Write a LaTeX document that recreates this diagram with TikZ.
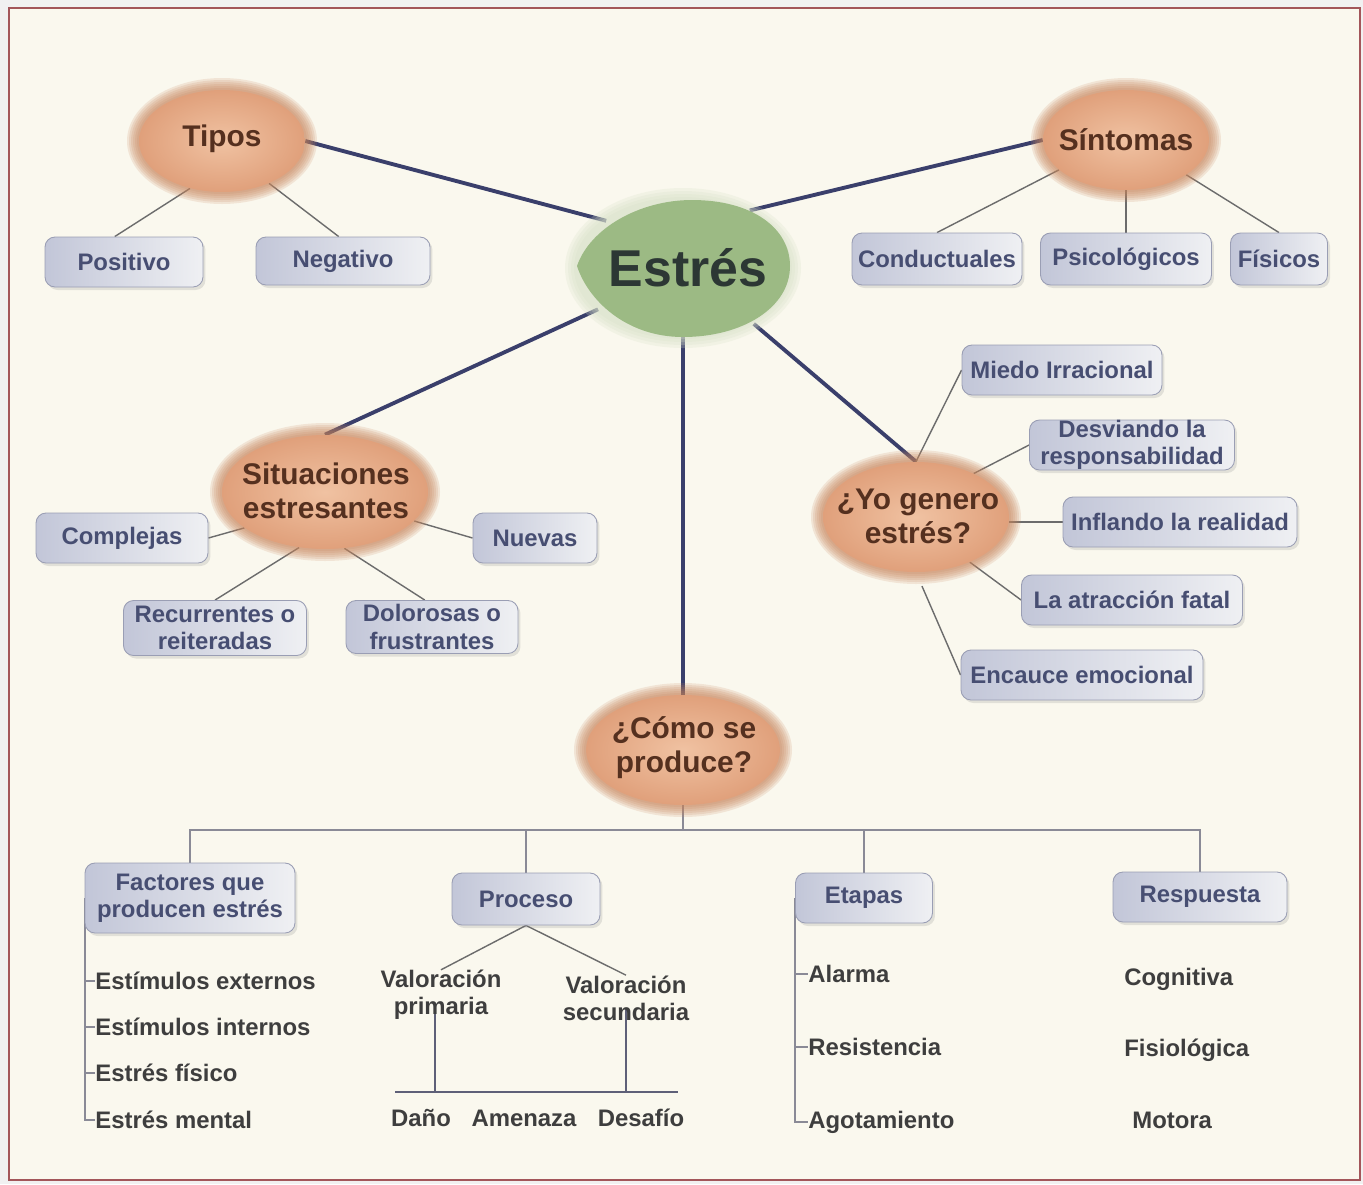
\documentclass[tikz,border=0pt]{standalone}
\usepackage{fontspec}
\setmainfont{Liberation Sans}
\usetikzlibrary{shapes.geometric,shadows,backgrounds}
\definecolor{bgc}{HTML}{FAF8EE}
\definecolor{outc}{HTML}{F1F1F1}
\definecolor{framec}{HTML}{A3565A}
\definecolor{navyc}{HTML}{3A3F6B}
\definecolor{thinc}{HTML}{6C6C6C}
\definecolor{busc}{HTML}{8A8A96}
\definecolor{procc}{HTML}{5E6078}
\definecolor{boxL}{HTML}{C2C6D8}
\definecolor{boxR}{HTML}{EFF0F3}
\definecolor{boxB}{HTML}{9A9EB4}
\definecolor{boxT}{HTML}{474E72}
\definecolor{bubIn}{HTML}{F0C2A2}
\definecolor{bubOut}{HTML}{E0A07B}
\definecolor{haloc}{HTML}{C7845B}
\definecolor{bubT}{HTML}{55301F}
\definecolor{estG}{HTML}{9CBA84}
\definecolor{estT}{HTML}{2C3734}
\definecolor{itemT}{HTML}{3E3E3E}
\newcommand\boxfont{\fontsize{13.6}{15.5}\selectfont\bfseries}
\newcommand\bubfont{\fontsize{17}{19.5}\selectfont\bfseries}
\newcommand\estfont{\fontsize{29.5}{32}\selectfont\bfseries}
\newcommand\halo[4]{\foreach \k in {1,...,6}{\fill[haloc,opacity=0.17] (#1,#2) ellipse [x radius={(#3+2*\k)*0.02cm}, y radius={(#4+2*\k)*0.02cm}];}}
\tikzset{
  nbox/.style={rectangle, rounded corners=0.2cm, left color=boxL, right color=boxR, draw=boxB, line width=0.5pt, text=boxT, font=\boxfont, align=center, inner sep=0pt, minimum height=1cm, drop shadow={opacity=0.2, shadow xshift=0.05cm, shadow yshift=-0.06cm}},
  bubble/.style={ellipse, inner sep=0pt, inner color=bubIn, outer color=bubOut},
  btxt/.style={text=bubT, font=\bubfont, align=center, inner sep=0pt},
  itm/.style={text=itemT, font=\boxfont, inner sep=0pt, anchor=west},
  citm/.style={text=itemT, font=\boxfont, inner sep=0pt, align=center},
  mainln/.style={navyc, line width=2.2pt},
  subln/.style={thinc, line width=0.8pt},
  busln/.style={busc, line width=1.2pt},
  procln/.style={procc, line width=0.9pt},
}
\begin{document}
\begin{tikzpicture}[x=0.02cm, y=-0.02cm]
\useasboundingbox (0,0) rectangle (1363,1184);
\begin{scope}[on background layer]
  \fill[outc] (0,0) rectangle (1363,1184);
  \filldraw[fill=bgc, draw=framec, line width=1.1pt] (9,8) rectangle (1360,1180);
\end{scope}

% central node
\foreach \k in {1,...,4}{\fill[estG!35!bgc, opacity=0.25] (683,268) ellipse [x radius={(106+3*\k)*0.02cm}, y radius={(68+3*\k)*0.02cm}];}
\fill[estG] (577,266) .. controls (590,228) and (640,200) .. (692,200)
  .. controls (752,200) and (790,228) .. (790,266)
  .. controls (790,308) and (742,337) .. (683,337)
  .. controls (626,337) and (588,300) .. (577,266) -- cycle;
\node[ellipse, minimum width=4.24cm, minimum height=2.74cm, inner sep=0pt, text=estT, font=\estfont] (estres) at (688,268) {Estrés};

% bubbles
\halo{222}{141}{83}{51}
\node[bubble, minimum width=3.32cm, minimum height=2.04cm] (tipos) at (222,141) {};
\node[btxt] (tipos-t) at (222,139) {Tipos};

\halo{1126}{140}{83}{50}
\node[bubble, minimum width=3.32cm, minimum height=2.0cm] (sint) at (1126,140) {};
\node[btxt] (sint-t) at (1126,140) {Síntomas};

\halo{325}{492}{103}{57}
\node[bubble, minimum width=4.12cm, minimum height=2.28cm] (situ) at (325,492) {};
\node[btxt] (situ-t) at (326,491) {Situaciones\\estresantes};

\halo{916}{517}{93}{55}
\node[bubble, minimum width=3.72cm, minimum height=2.2cm] (yo) at (916,517) {};
\node[btxt] (yo-t) at (918,516) {¿Yo genero\\estrés?};

\halo{683}{750}{97}{55}
\node[bubble, minimum width=3.88cm, minimum height=2.2cm] (como) at (683,750) {};
\node[btxt] (como-t) at (684,748) {¿Cómo se\\produce?};

% boxes
\node[nbox, minimum width=3.16cm] (pos) at (124,262) {Positivo};
\node[nbox, minimum width=3.48cm, minimum height=0.96cm] (neg) at (343,261) {Negativo};
\node[nbox, minimum width=3.40cm, minimum height=1.04cm] (cond) at (937,259) {Conductuales};
\node[nbox, minimum width=3.42cm, minimum height=1.04cm] (psic) at (1126,259) {Psicológicos};
\node[nbox, minimum width=1.94cm, minimum height=1.04cm] (fis) at (1279,259) {Físicos};
\node[nbox, minimum width=4.0cm] (miedo) at (1062,370) {Miedo Irracional};
\node[nbox, minimum width=4.1cm] (desv) at (1132,445) {Desviando la\\responsabilidad};
\node[nbox, minimum width=4.68cm] (infl) at (1180,522) {Inflando la realidad};
\node[nbox, minimum width=4.42cm] (atr) at (1132,600) {La atracción fatal};
\node[nbox, minimum width=4.84cm] (enc) at (1082,675) {Encauce emocional};
\node[nbox, minimum width=3.44cm] (comp) at (122,538) {Complejas};
\node[nbox, minimum width=2.48cm] (nue) at (535,538) {Nuevas};
\node[nbox, minimum width=3.66cm, minimum height=1.1cm] (rec) at (215,628) {Recurrentes o\\reiteradas};
\node[nbox, minimum width=3.44cm, minimum height=1.06cm] (dol) at (432,627) {Dolorosas o\\frustrantes};
\node[nbox, minimum width=4.2cm, minimum height=1.4cm] (fac) at (190,898) {Factores que\\producen estrés};
\node[nbox, minimum width=2.96cm, minimum height=1.04cm] (proc) at (526,899) {Proceso};
\node[nbox, minimum width=2.74cm] (etap) at (864,898) {Etapas};
\node[nbox, minimum width=3.48cm] (resp) at (1200,897) {Respuesta};

% lists
\node[itm] (f1) at (95,981) {Estímulos externos};
\node[itm] (f2) at (95,1027) {Estímulos internos};
\node[itm] (f3) at (95,1073) {Estrés físico};
\node[itm] (f4) at (95,1120) {Estrés mental};
\node[itm] (e1) at (808,974) {Alarma};
\node[itm] (e2) at (808,1047) {Resistencia};
\node[itm] (e3) at (808,1122) {Agotamiento};
\node[itm] (r1) at (1124,979) {Cognitiva};
\node[itm] (r2) at (1124,1050) {Fisiológica};
\node[itm] (r3) at (1132,1120) {Motora};
\node[citm] (vp) at (441,995) {Valoración\\primaria};
\node[citm] (vs) at (626,998) {Valoración\\secundaria};
\node[citm] (dano) at (421,1118) {Daño};
\node[citm] (amen) at (524,1118) {Amenaza};
\node[citm] (desa) at (641,1118) {Desafío};

\coordinate (bus) at (683,830);
\coordinate (vpa) at (435,1003);
\coordinate (vpb) at (435,1092);
\coordinate (vsa) at (626,1008);
\coordinate (vsb) at (626,1092);
\coordinate (hl) at (395,1092);
\coordinate (hr) at (678,1092);

\begin{scope}[on background layer]
  % main connectors
  \draw[mainln] (tipos.east) -- (estres.150);
  \draw[mainln] (sint.west) -- (estres.43);
  \draw[mainln] (situ.north) -- (estres);
  \draw[mainln] (estres) -- (yo.north);
  \draw[mainln] (estres.south -| como) -- (como);
  % thin connectors
  \draw[subln] (tipos.236) -- (pos.110);
  \draw[subln] (tipos.318) -- (neg.100);
  \draw[subln] (sint.204) -- (cond.north);
  \draw[subln] (sint.south) -- (psic.north);
  \draw[subln] (sint.330) -- (fis.north);
  \draw[subln] (situ.204) -- (comp.east);
  \draw[subln] (situ.342) -- (nue.west);
  \draw[subln] (situ.245) -- (rec.north);
  \draw[subln] (situ.289) -- (dol.105);
  \draw[subln] (yo.north) -- (miedo.west);
  \draw[subln] (yo.37) -- (desv.west);
  \draw[subln] (infl.west -| yo.east) -- (infl.west);
  \draw[subln] (yo.320) -- (atr.west);
  \draw[subln, shorten <=0.3cm] (yo.south) -- (enc.west);
  % bottom tree
  \draw[busln] (como.south) -- (bus);
  \draw[busln] (bus) -| (fac.north);
  \draw[busln] (bus) -| (proc.north);
  \draw[busln] (bus) -| (etap.north);
  \draw[busln] (bus) -| (resp.north);
  \draw[busln] (fac.west) -- (fac.west |- f4.west) -- (f4.west);
  \foreach \n in {f1,f2,f3} \draw[busln] (fac.west |- \n.west) -- (\n.west);
  \draw[busln] (etap.west) -- (etap.west |- e3.west) -- (e3.west);
  \foreach \n in {e1,e2} \draw[busln] (etap.west |- \n.west) -- (\n.west);
  \draw[subln] (proc.south) -- (vp.north);
  \draw[subln] (proc.south) -- (vs.north);
  \draw[procln] (vpa) -- (vpb);
  \draw[procln] (vsa) -- (vsb);
  \draw[procln] (hl) -- (hr);
\end{scope}
\end{tikzpicture}
\end{document}
